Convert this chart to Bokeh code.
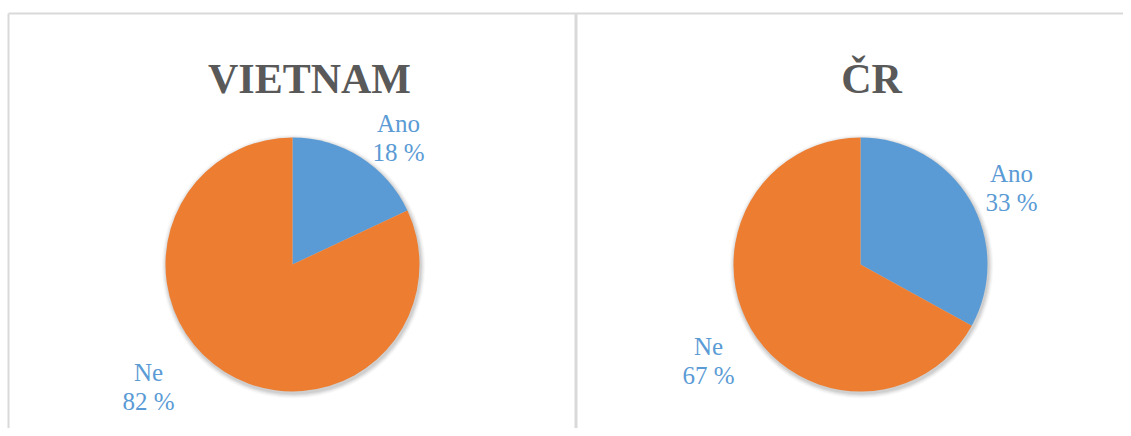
import numpy as np
from bokeh.plotting import figure
from bokeh.models import Range1d, ColumnDataSource
from bokeh.core.properties import value
from bokeh.embed import file_html
from bokeh.resources import INLINE

# ---- data ----
categories = ["Ano", "Ne"]
vietnam_values = [18, 82]
cr_values = [33, 67]
titles = ["VIETNAM", "ČR"]
colors = ["#5B9BD5", "#ED7D31"]

# ---- layout (image pixel coords) ----
W, H = 1123, 428


def py(y):
    return H - y


p = figure(width=W, height=H, x_range=Range1d(0, W), y_range=Range1d(0, H),
           output_backend="svg", toolbar_location=None, min_border=0)
p.axis.visible = False
p.grid.visible = False
p.outline_line_color = None
p.background_fill_color = "white"

# panel borders
border = "#D9D9D9"
p.segment(x0=[8, 8], y0=[py(13), py(13)], x1=[8, 1140], y1=[py(460), py(13)],
          line_color=border, line_width=2)
p.segment(x0=[575.5], y0=[py(13)], x1=[575.5], y1=[py(460)], line_color=border, line_width=3)

R = 127
panels = [
    dict(values=vietnam_values, title=titles[0], cx=292, cy=264, tx=309,
         labels=[(398, 123), (148, 372)]),
    dict(values=cr_values, title=titles[1], cx=860, cy=264, tx=871,
         labels=[(1011, 173), (708, 346)]),
]

for pn in panels:
    vals = np.array(pn["values"], dtype=float)
    frac = vals / vals.sum()
    cum = np.concatenate([[0], np.cumsum(frac)])
    start = np.pi / 2 - cum[1:] * 2 * np.pi
    end = np.pi / 2 - cum[:-1] * 2 * np.pi
    cx, cy = pn["cx"], py(pn["cy"])
    # soft shadow
    for k, a in [(5, 0.02), (4, 0.03), (3, 0.04), (2, 0.05), (1, 0.06)]:
        p.scatter(x=[cx + 1], y=[cy - 2], radius=R + k, fill_color="black", fill_alpha=a,
                  line_color=None)
    src = ColumnDataSource(dict(start=start, end=end, color=colors, cat=categories))
    p.wedge(x=cx, y=cy, radius=R, start_angle="start", end_angle="end",
            fill_color="color", line_color="white", line_width=0, line_alpha=0, source=src)
    # title
    p.text(x=[pn["tx"]], y=[py(78)], text=[pn["title"]], text_font=value("Liberation Serif"),
           text_font_style="bold", text_font_size="42px", text_color="#595959",
           text_align="center", text_baseline="alphabetic")
    # labels
    for cat, v, (lx, ly) in zip(categories, pn["values"], pn["labels"]):
        p.text(x=[lx, lx], y=[py(ly), py(ly + 29)], text=[cat, f"{v} %"],
               text_font=value("Liberation Serif"), text_font_size="25px",
               text_color="#5B9BD5", text_align="center", text_baseline="alphabetic")

open("out.html", "w").write(file_html(p, INLINE))
